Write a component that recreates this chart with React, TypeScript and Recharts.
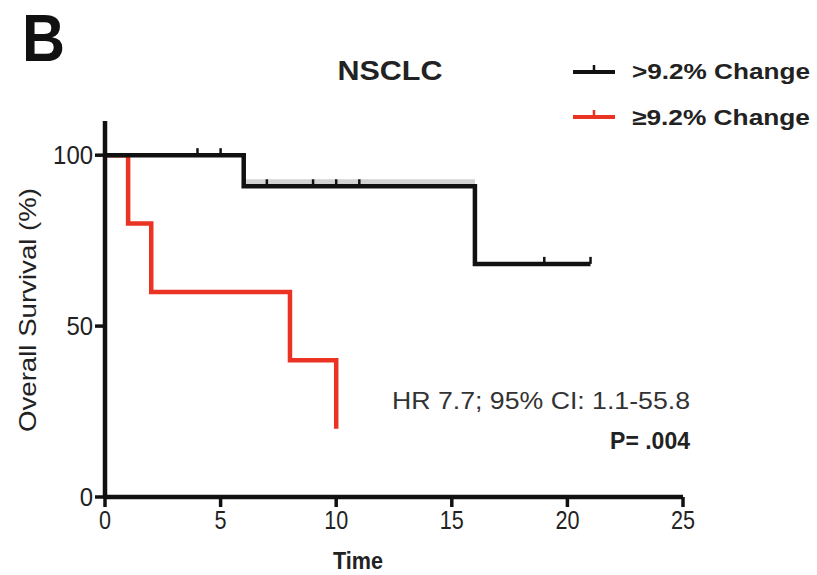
import React from "react";
import { ComposedChart, Line, Scatter, XAxis, YAxis } from "recharts";

// Kaplan-Meier step data (time, survival %)
const groupLowTimes = [0, 6, 16, 21];
const groupLowSurv = [100, 90.9, 68.2, 68.2];
const groupHighTimes = [0, 1, 2, 8, 10];
const groupHighSurv = [100, 80, 60, 40, 20];
// censor marks
const censorLowTimes = [4, 5, 7, 9, 10, 11, 19, 21];
const censorLowSurv = [100, 100, 90.9, 90.9, 90.9, 90.9, 68.2, 68.2];
// faint halo segment visible above the black step
const haloTimes = [6.05, 16];
const haloSurv = [92.1, 92.1];

const xTicks = [0, 5, 10, 15, 20, 25];
const yTicks = [0, 50, 100];
const seriesNames = [">9.2% Change", "\u22659.2% Change"];
const title = "NSCLC";
const panelLetter = "B";
const hrText = "HR 7.7; 95% CI: 1.1-55.8";
const pText = "P= .004";

const zip = (t: number[], s: number[]) => t.map((v, i) => ({ t: v, s: s[i] }));
const lowData = zip(groupLowTimes, groupLowSurv);
const highData = zip(groupHighTimes, groupHighSurv);
const censorLow = zip(censorLowTimes, censorLowSurv);
const haloData = zip(haloTimes, haloSurv);

const RED = "#ea3323";
const FONT = "'Liberation Sans', Arial, sans-serif";

const CensorMark = (props: any) => {
  const { cx, cy } = props;
  if (cx == null || cy == null) return null;
  return <line x1={cx} x2={cx} y1={cy - 7} y2={cy} stroke="#111" strokeWidth={2.5} />;
};

const XTick = (props: any) => {
  const { x, y, payload } = props;
  return (
    <text x={x} y={y + 20} textAnchor="middle" fontFamily={FONT} fontSize={25} fill="#222"
      textLength={String(payload.value).length * 12} lengthAdjust="spacingAndGlyphs">
      {payload.value}
    </text>
  );
};

const YTick = (props: any) => {
  const { x, y, payload } = props;
  return (
    <text x={x} y={y + 9} textAnchor="end" fontFamily={FONT} fontSize={25} fill="#222"
      textLength={String(payload.value).length * 13.3} lengthAdjust="spacingAndGlyphs">
      {payload.value}
    </text>
  );
};

export default function App() {
  return (
    <div style={{ position: "absolute", left: 0, top: 0, width: 817, height: 575, background: "#fff" }}>
      <ComposedChart
        width={817}
        height={575}
        margin={{ top: 121, right: 134, bottom: 0, left: 0 }}
        style={{ position: "absolute", left: 0, top: 0 }}
      >
        <XAxis
          type="number"
          dataKey="t"
          domain={[0, 25]}
          ticks={xTicks}
          height={78}
          axisLine={{ stroke: "#111", strokeWidth: 4.5 }}
          tickLine={{ stroke: "#111", strokeWidth: 3.5 }}
          tickSize={10}
          tick={<XTick />}
          allowDataOverflow
        />
        <YAxis
          type="number"
          dataKey="s"
          domain={[0, 110]}
          ticks={yTicks}
          width={105}
          axisLine={{ stroke: "#111", strokeWidth: 4.5 }}
          tickLine={{ stroke: "#111", strokeWidth: 3.5 }}
          tickSize={10}
          tick={<YTick />}
          allowDataOverflow
        />
        <Line data={haloData} dataKey="s" type="linear" stroke="#d2d2d2" strokeWidth={6} dot={false} isAnimationActive={false} />
        <Line data={highData} dataKey="s" type="stepAfter" stroke={RED} strokeWidth={4.5} dot={false} isAnimationActive={false} />
        <Line data={lowData} dataKey="s" type="stepAfter" stroke="#111" strokeWidth={4.5} dot={false} isAnimationActive={false} />
        <Scatter data={censorLow} dataKey="s" shape={<CensorMark />} isAnimationActive={false} />
      </ComposedChart>
      <svg width={817} height={575} style={{ position: "absolute", left: 0, top: 0, pointerEvents: "none" }}>
        <text x={22} y={61} fontFamily={FONT} fontWeight="bold" fontSize={66} fill="#111" textLength={43} lengthAdjust="spacingAndGlyphs">
          {panelLetter}
        </text>
        <text x={390} y={80} textAnchor="middle" fontFamily={FONT} fontWeight="bold" fontSize={28} fill="#222" textLength={105} lengthAdjust="spacingAndGlyphs">
          {title}
        </text>
        {/* legend */}
        <line x1={573} x2={615} y1={72} y2={72} stroke="#111" strokeWidth={4} />
        <line x1={594} x2={594} y1={65} y2={72} stroke="#111" strokeWidth={2.5} />
        <text x={632} y={79} fontFamily={FONT} fontWeight="bold" fontSize={22} fill="#222" textLength={178} lengthAdjust="spacingAndGlyphs">
          {seriesNames[0]}
        </text>
        <line x1={573} x2={615} y1={117} y2={117} stroke={RED} strokeWidth={4} />
        <line x1={594} x2={594} y1={110} y2={117} stroke={RED} strokeWidth={2.5} />
        <text x={632} y={125} fontFamily={FONT} fontWeight="bold" fontSize={22} fill="#222" textLength={178} lengthAdjust="spacingAndGlyphs">
          {seriesNames[1]}
        </text>
        {/* annotations */}
        <text x={690} y={409} textAnchor="end" fontFamily={FONT} fontSize={24} fill="#333" textLength={298} lengthAdjust="spacingAndGlyphs">
          {hrText}
        </text>
        <text x={690} y={449} textAnchor="end" fontFamily={FONT} fontWeight="bold" fontSize={23} fill="#222">
          {pText}
        </text>
        {/* axis titles */}
        <text x={358} y={569} textAnchor="middle" fontFamily={FONT} fontWeight="bold" fontSize={23} fill="#222" textLength={50} lengthAdjust="spacingAndGlyphs">
          Time
        </text>
        <text transform="translate(36,310) rotate(-90)" textAnchor="middle" fontFamily={FONT} fontSize={24} fill="#222" textLength={244} lengthAdjust="spacingAndGlyphs">
          Overall Survival (%)
        </text>
      </svg>
    </div>
  );
}
